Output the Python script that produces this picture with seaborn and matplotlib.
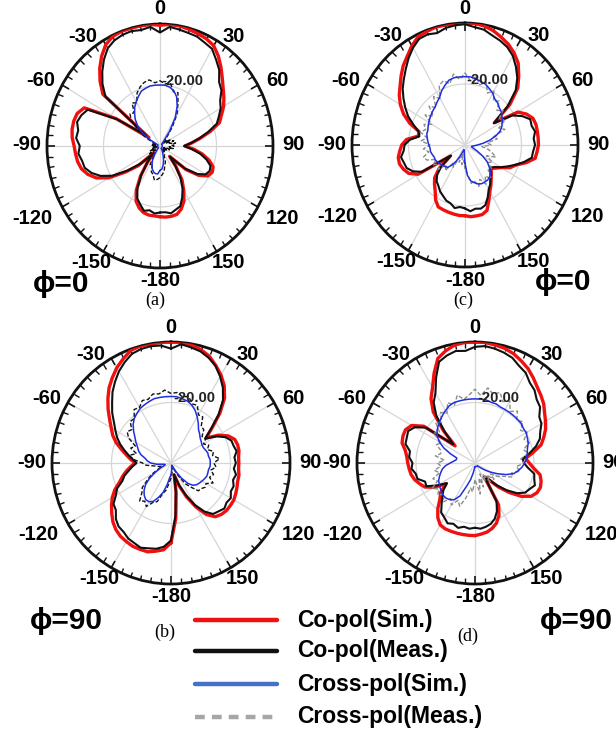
import numpy as np
import pandas as pd
import matplotlib
matplotlib.use("Agg")
import matplotlib.pyplot as plt
import seaborn as sns
from matplotlib.lines import Line2D

# ---------------- data (dB vs angle in degrees, 5 deg steps from -180) -------------
ANGLES_DEG = list(range(-180, 180, 5))
THETA_TICKS = [0, 30, 60, 90, 120, 150, 180, 210, 240, 270, 300, 330]
THETA_LABELS = ['0', '30', '60', '90', '120', '150', '-180', '-150', '-120', '-90', '-60', '-30']
R_MIN, R_MAX = -40, 0
R_RING = -20
R_RING_LABEL = '-20.00'

# panel (a)  phi=0
CO_SIM_A = [-16.8, -17.0, -17.0, -17.4, -18.4, -20.0, -23.2, -28.0, -33.2, -36.8,
            -30.0, -25.2, -19.2, -15.2, -12.8, -11.2, -10.4, -10.0, -9.6, -8.8,
            -8.4, -8.4, -8.8, -10.4, -22.0, -35.2, -13.6, -10.0, -6.8, -4.0,
            -1.6, -0.4, 0.0, 0.0, 0.0, 0.0, -0.4, 0.0, 0.0, -0.4,
            -0.8, -1.2, -2.0, -4.0, -6.4, -8.8, -10.8, -12.4, -14.0, -16.0,
            -17.6, -21.6, -25.6, -28.8, -31.2, -28.0, -24.8, -22.0, -20.0, -19.6,
            -20.4, -23.2, -28.0, -35.2, -31.2, -26.4, -23.2, -20.0, -18.0, -16.8,
            -16.6, -16.6]
CO_MEAS_A = [-18.2, -17.8, -18.6, -18.0, -19.6, -21.0, -24.0, -28.5, -33.0, -36.0,
             -31.0, -26.0, -20.5, -16.8, -14.2, -12.4, -12.0, -11.0, -11.6, -10.2,
             -10.6, -9.6, -10.4, -11.8, -22.5, -34.0, -14.8, -11.2, -8.2, -5.4,
             -3.0, -1.8, -1.2, -1.0, -1.4, -0.8, -2.8, -0.8, -1.2, -1.6,
             -1.8, -2.6, -3.2, -5.4, -7.4, -10.4, -11.6, -14.0, -15.2, -17.0,
             -18.6, -22.4, -26.0, -29.0, -31.5, -28.8, -25.6, -23.0, -21.0, -20.6,
             -21.4, -24.0, -28.6, -35.0, -31.6, -27.4, -24.0, -21.4, -19.0, -18.4,
             -17.6, -18.2]
X_SIM_A = [-32.0, -30.8, -30.8, -31.2, -32.0, -33.2, -34.8, -36.8, -38.4, -39.2,
           -39.2, -39.2, -39.2, -39.2, -39.2, -39.2, -39.2, -39.2, -39.2, -39.2,
           -39.2, -39.2, -39.2, -39.2, -36.0, -32.0, -29.6, -27.6, -26.0, -24.4,
           -23.2, -22.0, -20.8, -20.4, -20.0, -20.0, -20.0, -20.0, -20.4, -21.2,
           -22.8, -25.6, -29.2, -34.0, -38.0, -39.2, -39.2, -39.2, -39.2, -39.2,
           -39.2, -39.2, -39.2, -39.2, -39.2, -39.2, -39.2, -39.2, -39.2, -39.2,
           -39.2, -39.2, -39.2, -39.2, -39.2, -39.2, -39.2, -38.0, -36.8, -35.2,
           -33.6, -32.4]
X_MEAS_A = [-29.6, -29.0, -28.6, -30.4, -31.0, -33.6, -33.0, -36.0, -37.0, -36.4,
            -38.0, -35.6, -37.6, -36.0, -38.4, -37.0, -38.8, -37.6, -38.6, -37.2,
            -38.4, -37.4, -38.8, -36.8, -33.6, -30.0, -26.6, -25.0, -25.8, -22.8,
            -23.6, -20.8, -19.4, -18.4, -18.0, -19.2, -18.6, -19.6, -19.0, -21.6,
            -21.4, -25.0, -28.0, -32.4, -36.4, -38.0, -37.0, -38.4, -35.6, -37.8,
            -34.8, -36.6, -34.4, -36.0, -35.0, -36.8, -35.2, -37.4, -36.4, -38.6,
            -37.4, -38.8, -37.8, -38.6, -37.6, -38.2, -36.8, -36.6, -34.4, -33.4,
            -31.6, -30.6]

# panel (c)  phi=0
CO_SIM_C = [-16.8, -16.8, -17.0, -17.2, -17.4, -17.6, -19.2, -21.6, -23.2, -24.8,
            -28.0, -33.6, -20.8, -18.0, -16.8, -16.0, -16.0, -16.8, -17.6, -19.2,
            -23.2, -23.2, -19.2, -16.0, -13.6, -11.6, -10.0, -8.0, -6.0, -4.4,
            -2.4, -0.8, -0.4, 0.0, 0.0, 0.0, 0.0, 0.0, -0.4, -1.2,
            -2.4, -3.6, -5.2, -7.2, -10.4, -13.6, -19.2, -27.2, -18.4, -16.0,
            -14.4, -14.0, -14.0, -14.0, -14.0, -14.4, -14.8, -17.6, -20.8, -22.4,
            -25.2, -26.8, -28.0, -26.8, -25.6, -24.0, -22.4, -20.0, -17.2, -16.4,
            -16.4, -16.4]
CO_MEAS_C = [-19.2, -19.6, -19.0, -20.2, -20.6, -21.6, -22.4, -23.6, -24.4, -26.0,
             -29.0, -34.0, -22.4, -19.6, -18.0, -17.6, -17.0, -18.2, -18.6, -20.4,
             -23.6, -23.0, -20.6, -17.8, -15.6, -13.4, -11.2, -9.4, -7.4, -5.2,
             -3.2, -1.6, -1.4, -2.0, -1.0, -0.6, -0.4, -1.2, -1.6, -2.8,
             -3.6, -4.6, -6.2, -8.6, -11.2, -14.6, -20.4, -27.6, -20.6, -17.6,
             -15.4, -15.6, -14.8, -15.6, -15.2, -15.8, -16.0, -18.4, -21.0, -23.4,
             -25.4, -27.4, -28.4, -27.2, -26.0, -24.4, -23.2, -21.0, -19.0, -18.4,
             -18.8, -18.2]
X_SIM_C = [-34.0, -36.8, -38.4, -38.4, -37.6, -36.0, -34.0, -32.0, -30.4, -30.0,
           -29.6, -29.2, -28.8, -28.4, -28.4, -28.0, -27.6, -27.6, -27.2, -26.8,
           -26.4, -26.0, -26.0, -25.6, -25.2, -24.8, -24.4, -24.0, -23.6, -22.8,
           -22.0, -20.4, -19.2, -18.0, -17.6, -17.6, -17.6, -17.6, -18.0, -18.4,
           -18.8, -19.6, -20.4, -21.6, -22.0, -22.8, -23.2, -24.0, -24.8, -25.6,
           -26.8, -28.8, -31.2, -33.6, -35.6, -36.8, -37.6, -37.6, -36.8, -35.2,
           -32.8, -30.4, -28.8, -27.2, -26.4, -26.0, -26.0, -26.0, -26.4, -27.2,
           -28.0, -30.0]
X_MEAS_C = [-32.0, -35.0, -33.5, -37.0, -34.0, -35.6, -31.6, -33.0, -29.0, -30.8,
            -27.6, -29.6, -26.8, -28.8, -25.6, -24.8, -27.0, -25.2, -27.6, -24.4,
            -26.4, -23.6, -25.2, -24.0, -26.4, -22.8, -25.4, -22.0, -24.0, -20.6,
            -22.4, -18.4, -17.6, -19.2, -16.4, -18.4, -16.4, -18.8, -17.2, -19.6,
            -18.0, -21.2, -19.6, -22.4, -21.2, -24.0, -22.4, -25.4, -23.6, -26.8,
            -25.0, -29.6, -28.4, -32.0, -30.8, -34.0, -31.6, -30.0, -28.4, -31.6,
            -28.8, -30.0, -27.6, -28.4, -25.6, -27.6, -25.2, -27.6, -25.6, -28.0,
            -27.2, -30.4]

# panel (b)  phi=90
CO_SIM_B = [-13.6, -11.2, -10.4, -9.6, -9.6, -9.6, -10.0, -10.4, -11.2, -12.4,
            -14.0, -15.6, -17.2, -19.2, -21.6, -23.2, -24.8, -26.4, -28.0, -26.4,
            -24.8, -22.8, -20.4, -18.4, -16.8, -14.8, -12.4, -10.0, -7.6, -5.6,
            -3.6, -2.0, -0.4, 0.0, 0.0, 0.0, 0.0, 0.0, -0.4, -1.2,
            -2.4, -4.4, -6.4, -8.8, -12.0, -16.8, -22.0, -25.6, -21.6, -18.8,
            -17.2, -16.8, -16.8, -17.2, -17.2, -17.2, -16.8, -16.8, -16.4, -16.0,
            -15.6, -15.6, -15.6, -16.0, -16.8, -19.2, -23.2, -27.6, -32.0, -36.0,
            -30.0, -21.6]
CO_MEAS_B = [-14.4, -12.2, -11.2, -10.8, -10.2, -10.8, -11.2, -12.2, -12.6, -13.8,
             -15.8, -16.4, -18.6, -20.0, -22.6, -23.8, -25.6, -27.0, -28.4, -27.2,
             -25.6, -23.8, -21.8, -20.0, -18.4, -16.6, -14.2, -12.0, -9.4, -7.2,
             -5.0, -3.2, -1.6, -1.0, -0.8, -1.0, -2.2, -0.6, -1.2, -1.8,
             -3.0, -4.6, -7.0, -9.6, -12.8, -17.4, -22.4, -26.0, -22.4, -19.8,
             -18.4, -18.2, -17.6, -18.6, -18.2, -18.8, -17.8, -18.4, -17.6, -17.8,
             -16.8, -17.2, -16.6, -17.4, -18.0, -20.4, -24.0, -28.4, -32.4, -36.0,
             -30.8, -22.6]
X_SIM_B = [-36.0, -35.2, -32.8, -30.0, -28.0, -26.0, -25.2, -25.2, -26.0, -27.2,
           -28.8, -31.2, -34.0, -36.0, -37.6, -38.0, -37.6, -35.2, -33.2, -32.0,
           -31.2, -29.6, -28.4, -27.6, -26.4, -25.2, -23.6, -22.0, -20.8, -20.0,
           -19.2, -18.8, -18.4, -18.0, -18.0, -18.0, -18.0, -18.0, -18.4, -18.8,
           -19.6, -20.8, -22.4, -24.0, -25.6, -26.4, -27.2, -27.6, -28.0, -28.0,
           -27.6, -27.2, -27.2, -26.8, -26.8, -26.8, -27.2, -27.2, -27.2, -27.6,
           -28.0, -28.4, -28.8, -29.6, -31.2, -34.0, -36.8, -38.8, -39.2, -39.2,
           -38.8, -37.6]
X_MEAS_B = [-35.0, -33.6, -31.0, -29.6, -26.4, -25.6, -23.4, -24.6, -23.6, -26.2,
            -27.4, -30.4, -32.6, -35.4, -36.8, -35.6, -34.4, -31.6, -30.4, -27.6,
            -25.6, -28.0, -25.6, -26.8, -23.6, -22.0, -22.8, -20.6, -20.8, -18.4,
            -18.8, -17.2, -17.6, -16.4, -16.8, -15.8, -17.0, -16.6, -17.8, -17.2,
            -19.2, -19.0, -21.6, -21.4, -24.2, -24.4, -26.4, -25.6, -27.4, -26.0,
            -27.0, -25.2, -25.8, -23.6, -25.6, -24.8, -26.4, -25.2, -26.2, -24.4,
            -26.4, -26.0, -26.8, -27.0, -29.6, -31.6, -35.2, -37.6, -38.8, -38.4,
            -37.6, -36.4]

# panel (d)  phi=90
CO_SIM_D = [-16.0, -16.0, -16.0, -16.0, -16.0, -16.0, -16.4, -18.0, -20.4, -23.2,
            -24.8, -28.0, -24.0, -21.2, -20.0, -18.8, -18.0, -17.6, -17.2, -16.8,
            -16.0, -14.4, -14.0, -14.0, -15.2, -18.8, -31.2, -24.8, -18.0, -14.0,
            -11.2, -7.2, -3.2, -1.6, -0.4, 0.0, 0.0, 0.0, -0.4, -0.8,
            -1.6, -2.8, -4.0, -5.6, -7.2, -8.4, -9.6, -11.2, -12.4, -13.6,
            -15.2, -16.8, -20.0, -22.8, -21.6, -20.0, -17.6, -16.8, -16.4, -16.8,
            -18.0, -20.8, -24.8, -28.8, -32.8, -34.4, -24.0, -20.8, -18.8, -17.6,
            -16.8, -16.4]
CO_MEAS_D = [-18.6, -18.2, -18.6, -17.8, -18.6, -18.0, -19.2, -20.0, -22.4, -24.4,
             -26.0, -28.4, -25.2, -21.8, -22.0, -19.8, -19.6, -18.4, -18.8, -17.6,
             -17.6, -15.6, -15.4, -15.0, -16.4, -19.6, -30.4, -25.6, -19.6, -15.6,
             -13.2, -8.8, -4.4, -3.2, -2.4, -2.8, -1.6, -1.2, -1.6, -2.2,
             -3.0, -4.6, -5.6, -7.6, -8.6, -10.4, -11.2, -13.4, -14.0, -15.6,
             -16.6, -18.6, -21.2, -23.8, -23.4, -22.0, -19.6, -19.2, -18.4, -19.6,
             -20.4, -22.6, -26.0, -29.6, -33.2, -34.0, -25.4, -22.4, -20.4, -19.2,
             -18.6, -18.2]
X_SIM_D = [-38.8, -38.4, -36.8, -34.4, -32.0, -28.0, -26.0, -25.2, -24.8, -24.8,
           -25.2, -25.6, -26.0, -26.4, -27.2, -28.0, -28.8, -30.0, -31.6, -32.8,
           -33.6, -33.6, -31.2, -28.4, -26.0, -24.4, -23.2, -22.4, -21.6, -20.8,
           -20.0, -19.2, -18.8, -18.8, -18.8, -18.8, -18.8, -18.8, -18.8, -19.2,
           -19.2, -19.6, -19.6, -19.6, -19.6, -19.6, -19.6, -20.0, -20.0, -20.4,
           -20.8, -21.6, -22.0, -22.4, -23.2, -24.0, -25.2, -26.4, -28.8, -31.6,
           -34.0, -36.0, -37.6, -38.4, -38.8, -38.8, -38.8, -38.8, -38.8, -38.8,
           -38.8, -38.8]
X_MEAS_D = [-34.4, -30.4, -31.6, -28.0, -24.8, -26.4, -24.0, -25.6, -23.2, -25.4,
            -23.6, -25.0, -23.2, -26.0, -24.8, -27.6, -26.0, -28.4, -27.2, -29.6,
            -26.4, -28.0, -27.6, -25.6, -26.8, -22.8, -24.4, -21.2, -22.4, -19.6,
            -21.0, -18.0, -19.6, -16.8, -18.6, -17.4, -15.6, -17.6, -14.8, -16.4,
            -15.2, -17.6, -16.4, -19.2, -17.6, -20.0, -18.8, -21.2, -19.6, -21.6,
            -20.4, -23.0, -21.6, -24.4, -23.2, -26.0, -24.4, -27.2, -26.4, -29.6,
            -31.2, -33.6, -31.6, -34.4, -32.0, -35.2, -33.0, -36.0, -31.6, -34.8,
            -29.6, -32.8]

SERIES_NAMES = ['Co-pol(Sim.)', 'Co-pol(Meas.)', 'Cross-pol(Sim.)', 'Cross-pol(Meas.)']
PANEL_TAGS = ['(a)', '(c)', '(b)', '(d)']
PHI_LABELS = ['\u03d5=0', '\u03d5=0', '\u03d5=90', '\u03d5=90']
PANEL_DATA = [
    (CO_SIM_A, CO_MEAS_A, X_SIM_A, X_MEAS_A),
    (CO_SIM_C, CO_MEAS_C, X_SIM_C, X_MEAS_C),
    (CO_SIM_B, CO_MEAS_B, X_SIM_B, X_MEAS_B),
    (CO_SIM_D, CO_MEAS_D, X_SIM_D, X_MEAS_D),
]
for grp in PANEL_DATA:
    for s in grp:
        assert len(s) == len(ANGLES_DEG), len(s)

# ---------------- styling / layout ----------------
W, H = 616, 729
sns.set_style('white')
plt.rcParams['font.family'] = ['Liberation Sans', 'DejaVu Sans']
plt.rcParams['text.color'] = 'black'

RED = '#f01010'
BLACK = '#111111'
BLUE = '#1e2ee0'
GRAY = '#8c8c8c'

# (center x, center y, rx, ry) in pixels
BOXES = [(160, 146, 113, 122), (465, 145, 113, 122),
         (171, 463, 119, 121), (475, 463, 118, 121)]
XMEAS_COLORS = [BLACK, GRAY, BLACK, GRAY]
PHI_POS = [(61, 284), (563, 282), (66, 621), (576, 621)]
TAG_POS = [(155, 300), (463, 300), (165, 632), (468, 636)]
# angle label placement: (horizontal alignment, dx px, dy px; dy positive = down)
LABEL_PLACE = {0: ('center', 0, -15), 30: ('left', 6, -4), 60: ('left', 8, -4),
               90: ('left', 9, -1), 120: ('left', 8, 11), 150: ('center', 12, 11),
               180: ('center', 0, 13), 210: ('center', -12, 11), 240: ('right', -10, 11),
               270: ('right', -6, -1), 300: ('right', -7, -4), 330: ('right', -6, -4)}

fig = plt.figure(figsize=(W / 100, H / 100), dpi=100)

theta_closed = np.deg2rad(ANGLES_DEG + [ANGLES_DEG[0] + 360])

for i, (cx, cy, rx, ry) in enumerate(BOXES):
    ax = fig.add_axes([(cx - rx) / W, 1 - (cy + ry) / H, 2 * rx / W, 2 * ry / H],
                      projection='polar')
    co_sim, co_meas, x_sim, x_meas = PANEL_DATA[i]
    styles = [
        (co_sim, RED, 2.4, '-', 3),
        (co_meas, BLACK, 1.5, '-', 4),
        (x_meas, XMEAS_COLORS[i], 1.0, (0, (3, 1.5)), 5),
        (x_sim, BLUE, 1.1, '-', 6),
    ]
    for vals, color, lw, ls, z in styles:
        df = pd.DataFrame({'theta': theta_closed, 'r': list(vals) + [vals[0]]})
        sns.lineplot(data=df, x='theta', y='r', ax=ax, sort=False, estimator=None,
                     color=color, lw=lw, linestyle=ls, zorder=z)
    ax.set_xlabel('')
    ax.set_ylabel('')
    ax.set_theta_zero_location('N')
    ax.set_theta_direction(-1)
    ax.set_xticks(np.deg2rad(THETA_TICKS))
    ax.set_xticklabels([])
    ax.set_xticks(np.deg2rad(list(range(0, 360, 5))), minor=True)
    ax.set_xlim(0, 2 * np.pi)
    ax.set_ylim(R_MIN, R_MAX)
    ax.set_yticks([R_RING])
    ax.set_yticklabels([])
    ax.tick_params(axis='x', which='both', bottom=False, top=True)
    ax.tick_params(axis='x', which='major', direction='in', length=6, width=1.2,
                   colors=BLACK)
    ax.tick_params(axis='x', which='minor', direction='in', length=4, width=1.0,
                   color=BLACK)
    ax.grid(True, which='major', color='#d6d6d6', lw=0.9)
    ax.spines['polar'].set_linewidth(2.0)
    ax.spines['polar'].set_color(BLACK)
    ax.set_aspect('auto')

    for deg, lab in zip(THETA_TICKS, THETA_LABELS):
        ha, dx, dy = LABEL_PLACE[deg]
        ax.annotate(lab, xy=(np.deg2rad(deg), R_MAX), xycoords='data',
                    xytext=(dx * 0.72, -dy * 0.72), textcoords='offset points',
                    ha=ha, va='center', fontsize=14.5, fontweight='bold',
                    color='black', annotation_clip=False)

    ax.text(np.deg2rad(20), -17.2, R_RING_LABEL, ha='center', va='center',
            fontsize=10.5, fontweight='bold', color='#222222', zorder=10)

    px, py = PHI_POS[i]
    fig.text(px / W, 1 - py / H, PHI_LABELS[i], ha='center', va='center',
             fontsize=21.5, fontweight='bold', color='black')
    tx, ty = TAG_POS[i]
    fig.text(tx / W, 1 - ty / H, PANEL_TAGS[i], ha='center', va='center',
             fontsize=13, color='black', family=['Liberation Serif', 'DejaVu Serif'])

# ---------------- legend ----------------
LEG_Y = [620, 651, 684, 717]
LEG_STYLE = [(RED, '-'), (BLACK, '-'), ('#4472c4', '-'), ('#a6a6a6', (0, (2.2, 1.6)))]
for (color, ls), yy, name in zip(LEG_STYLE, LEG_Y, SERIES_NAMES):
    fig.add_artist(Line2D([195 / W, 277 / W], [1 - yy / H, 1 - yy / H],
                          transform=fig.transFigure, color=color, lw=3.2, linestyle=ls))
    fig.text(297 / W, 1 - yy / H, name, ha='left', va='center', fontsize=16.5,
             fontweight='bold', color='black')

fig.savefig('out.png', dpi=100)
